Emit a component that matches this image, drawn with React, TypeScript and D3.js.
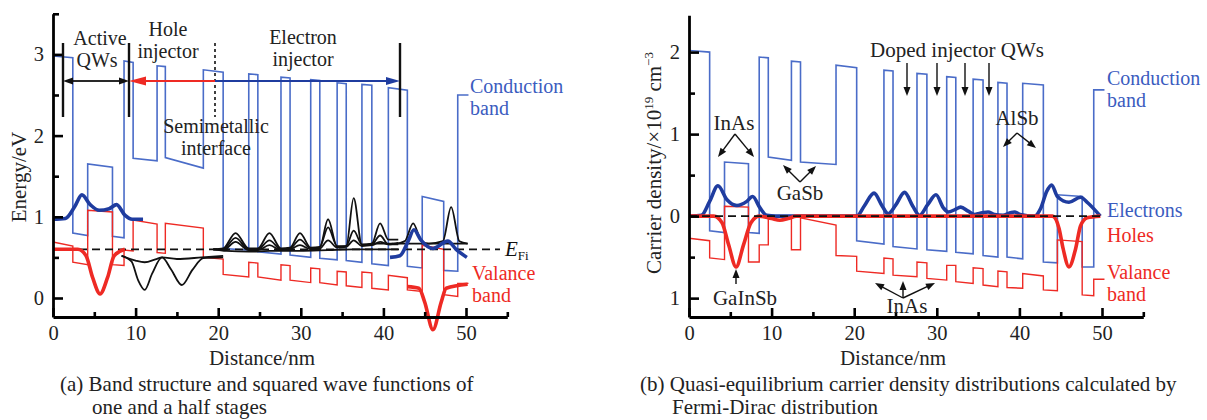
import React, { useEffect, useRef } from "react";
import * as d3 from "d3";

type Pt = [number, number];

// ---------- (a) band structure: energy (eV) vs distance (nm) ----------
const condBandA: Pt[] = [
  [0, 2.98], [2.4, 2.96], [2.4, 0.8], [4.2, 0.77], [4.2, 1.65], [7.2, 1.61], [7.2, 0.76], [8.6, 0.74],
  [8.6, 2.92], [9.7, 2.9], [9.7, 1.72], [12.6, 1.69], [12.6, 2.86], [13.6, 2.85], [13.6, 1.73], [18.2, 1.6],
  [18.2, 2.81], [20.6, 2.78], [20.6, 0.61], [23.7, 0.59], [23.7, 2.76], [24.8, 2.75], [24.8, 0.57], [27.6, 0.54],
  [27.6, 2.72], [28.7, 2.71], [28.7, 0.53], [31.2, 0.5], [31.2, 2.69], [32.3, 2.68], [32.3, 0.49], [34.4, 0.47],
  [34.4, 2.65], [35.5, 2.64], [35.5, 0.46], [37.4, 0.44], [37.4, 2.63], [38.6, 2.62], [38.6, 0.42], [40.6, 0.4],
  [40.6, 2.59], [42.9, 2.56], [42.9, 0.39], [44.7, 0.37], [44.7, 1.25], [47.3, 1.19], [47.3, 0.34], [49, 0.33],
  [49, 2.5], [50.3, 2.5],
];

const valBandA: Pt[] = [
  [0, 0.69], [2.4, 0.64], [2.4, 0.44], [4.2, 0.41], [4.2, 1.08], [7.2, 1.06], [7.2, 0.41], [8.6, 0.4],
  [8.6, 0.59], [9.7, 0.58], [9.7, 0.96], [12.6, 0.91], [12.6, 0.56], [13.6, 0.55], [13.6, 0.92], [18.2, 0.86],
  [18.2, 0.5], [20.6, 0.48], [20.6, 0.29], [23.7, 0.26], [23.7, 0.44], [24.8, 0.43], [24.8, 0.26], [27.6, 0.22],
  [27.6, 0.41], [28.7, 0.4], [28.7, 0.22], [31.2, 0.19], [31.2, 0.37], [32.3, 0.36], [32.3, 0.19], [34.4, 0.16],
  [34.4, 0.33], [35.5, 0.32], [35.5, 0.15], [37.4, 0.13], [37.4, 0.32], [38.6, 0.31], [38.6, 0.12], [40.6, 0.1],
  [40.6, 0.28], [42.9, 0.25], [42.9, 0.1], [44.7, 0.08], [44.7, 0.65], [47.3, 0.6], [47.3, 0.04], [49, 0.02],
  [49, 0.18], [50.3, 0.18],
];

// squared wave functions in the active QWs
const electronActive1: Pt[] = [
  [0, 0.97], [1.5, 0.98], [2.6, 1.12], [3.5, 1.27], [4.5, 1.15], [5.6, 1.08], [6.8, 1.1], [7.7, 1.15],
  [8.7, 1.02], [9.6, 0.97], [10.9, 0.97],
];
const electronActive2: Pt[] = [
  [40.8, 0.5], [42, 0.52], [43, 0.7], [43.7, 0.84], [44.5, 0.72], [46, 0.61], [47.8, 0.7], [48.8, 0.6], [50.1, 0.5],
];
const holeActive1: Pt[] = [
  [0, 0.6], [3, 0.6], [4, 0.52], [4.8, 0.25], [5.7, 0.05], [6.6, 0.25], [7.4, 0.52], [8.7, 0.6],
];
const holeActive2: Pt[] = [
  [42.9, 0.14], [44.3, 0.12], [45, -0.05], [46, -0.39], [47, -0.05], [47.6, 0.12], [50.2, 0.17],
];

// hole injector states
const holeInjector: Pt[][] = [
  [[8.3, 0.52], [9.5, 0.45], [10.3, 0.22], [11.1, 0.1], [12, 0.3], [13.2, 0.5], [14.3, 0.35], [15.6, 0.16],
    [16.9, 0.35], [18.2, 0.49], [20.6, 0.5]],
  [[8.3, 0.52], [10, 0.46], [11.1, 0.44], [12.5, 0.48], [13.2, 0.5], [15, 0.48], [18, 0.5], [20.6, 0.52]],
];

// electron injector states
const electronInjector: Pt[][] = [
  [[19.4, 0.6], [20.6, 0.61], [22.1, 0.8], [23.7, 0.61], [24.8, 0.61], [26.2, 0.8], [27.6, 0.61], [28.7, 0.62],
    [29.9, 0.8], [31.2, 0.62], [32.3, 0.63], [33.3, 0.87], [34.4, 0.64], [35.5, 0.64], [36.4, 1.23], [37.4, 0.65],
    [38.6, 0.66], [39.6, 0.77], [40.6, 0.66], [41.8, 0.66]],
  [[19.4, 0.6], [20.6, 0.6], [22.1, 0.74], [23.7, 0.6], [24.8, 0.6], [26.2, 0.71], [27.6, 0.6], [28.7, 0.61],
    [29.9, 0.72], [31.2, 0.61], [32.3, 0.62], [33.3, 0.97], [34.4, 0.63], [35.5, 0.64], [36.4, 0.83], [37.4, 0.66],
    [38.6, 0.67], [39.6, 0.92], [40.6, 0.72], [41.8, 0.72]],
  [[19.4, 0.6], [20.6, 0.59], [22.1, 0.69], [23.7, 0.59], [24.8, 0.59], [26.2, 0.65], [27.6, 0.59], [28.7, 0.6],
    [29.9, 0.65], [31.2, 0.6], [32.3, 0.61], [33.3, 0.71], [34.4, 0.62], [35.5, 0.63], [36.4, 0.71], [37.4, 0.64],
    [38.6, 0.65], [39.6, 0.69], [40.6, 0.66], [41.8, 0.68]],
  [[19.4, 0.6], [21, 0.58], [23.7, 0.57], [26.2, 0.58], [29.9, 0.58], [33.3, 0.59], [36.4, 0.6], [39.6, 0.6], [41.8, 0.6]],
  [[38.5, 0.67], [41.5, 0.67], [42.6, 0.7], [43.6, 0.92], [44.6, 0.7], [45.5, 0.67], [47.2, 0.7], [48.2, 1.12],
    [49.2, 0.7], [50.2, 0.67]],
  [[41, 0.67], [50.2, 0.67]],
];

const fermiLevel = 0.6;

// ---------- (b) carrier density (10^19 cm^-3) vs distance (nm) ----------
const condBandB: Pt[] = [
  [0, 2.02], [2.5, 2.0], [2.5, -0.18], [4.3, -0.2], [4.3, 0.66], [7.2, 0.64], [7.2, -0.2], [8.5, -0.21],
  [8.5, 1.94], [9.6, 1.93], [9.6, 0.72], [12.4, 0.68], [12.4, 1.89], [13.5, 1.88], [13.5, 0.66], [17.8, 0.63],
  [17.8, 1.84], [20.3, 1.81], [20.3, -0.3], [23.6, -0.34], [23.6, 1.78], [24.7, 1.77], [24.7, -0.37], [27.6, -0.4],
  [27.6, 1.74], [28.8, 1.73], [28.8, -0.41], [31.2, -0.43], [31.2, 1.7], [32.3, 1.69], [32.3, -0.44], [34.4, -0.46],
  [34.4, 1.67], [35.6, 1.66], [35.6, -0.48], [37.4, -0.5], [37.4, 1.63], [38.5, 1.62], [38.5, -0.5], [40.4, -0.52],
  [40.4, 1.62], [42.9, 1.6], [42.9, -0.56], [44.6, -0.57], [44.6, 0.26], [47.6, 0.24], [47.6, -0.62], [49, -0.62],
  [49, 1.54], [50.3, 1.54],
];

const valBandB: Pt[] = [
  [0, -0.27], [2.5, -0.3], [2.5, -0.51], [4.3, -0.53], [4.3, 0.12], [7.2, 0.11], [7.2, -0.56], [8.5, -0.56],
  [8.5, -0.35], [9.6, -0.35], [9.6, 0.0], [12.4, -0.02], [12.4, -0.41], [13.5, -0.41], [13.5, -0.02], [17.8, -0.11],
  [17.8, -0.48], [20.3, -0.49], [20.3, -0.67], [23.6, -0.7], [23.6, -0.51], [24.7, -0.52], [24.7, -0.72], [27.6, -0.74],
  [27.6, -0.56], [28.8, -0.57], [28.8, -0.76], [31.2, -0.78], [31.2, -0.6], [32.3, -0.6], [32.3, -0.8], [34.4, -0.82],
  [34.4, -0.63], [35.6, -0.64], [35.6, -0.84], [37.4, -0.86], [37.4, -0.67], [38.5, -0.68], [38.5, -0.87], [40.4, -0.88],
  [40.4, -0.7], [42.9, -0.73], [42.9, -0.9], [44.6, -0.91], [44.6, -0.29], [47.6, -0.31], [47.6, -0.96], [49, -0.97],
  [49, -0.77], [50.3, -0.77],
];

const electronDensity: Pt[] = [
  [0, 0], [1.5, 0.01], [2.5, 0.18], [3.5, 0.37], [4.6, 0.2], [5.8, 0.13], [7.0, 0.18], [7.7, 0.24], [8.6, 0.1],
  [9.4, 0.01], [10.5, 0], [20.3, 0], [21.2, 0.12], [22.4, 0.28], [23.4, 0.12], [24.1, 0.03], [25, 0.13],
  [26.1, 0.29], [27.1, 0.12], [27.9, 0.01], [28.9, 0.14], [29.9, 0.26], [30.8, 0.1], [31.4, 0.05], [32.2, 0.08],
  [32.9, 0.11], [33.8, 0.06], [34.6, 0.02], [35.5, 0.04], [36.2, 0.05], [37, 0.02], [38, 0.01], [38.9, 0.04],
  [39.4, 0.05], [40.1, 0.02], [41.8, 0], [42.6, 0.1], [43.3, 0.3], [43.9, 0.38], [44.6, 0.24], [46, 0.17],
  [47.4, 0.23], [48.3, 0.16], [49.8, 0],
];

// holes are drawn downward (negative)
const holeDensity: Pt[] = [
  [0, 0], [3, 0], [4, -0.08], [4.8, -0.35], [5.7, -0.62], [6.6, -0.35], [7.5, -0.08], [8.5, 0], [10, -0.03],
  [11, -0.05], [12, -0.03], [13, 0], [44, 0], [44.8, -0.15], [45.3, -0.4], [46, -0.62], [46.8, -0.4],
  [47.4, -0.12], [48.2, -0.02], [49.8, 0],
];

const xMajor = [0, 10, 20, 30, 40, 50];
const xMinor = [5, 15, 25, 35, 45, 55];
const yMajorA = [0, 1, 2, 3];
const yMinorA = [0.5, 1.5, 2.5, 3.5];
const yMajorB = [-1, 0, 1, 2];
const yMinorB = [-0.5, 0.5, 1.5];

const FONT = "'Liberation Serif', 'Times New Roman', serif";
const BLUE_THIN = "#4a6cc8";
const BLUE_THICK = "#1f3c9f";
const RED = "#ee2a24";
const BLUE_TEXT = "#3b5cbf";

type Sel = d3.Selection<SVGGElement, unknown, null, undefined>;
type Lin = d3.ScaleLinear<number, number>;

function drawAxes(g: Sel, x: Lin, y: Lin, yMajor: number[], yMinor: number[], fmt: (d: number) => string) {
  const yb = y(y.domain()[0]);
  const xl = x(0);
  const gx = g.append("g").attr("transform", `translate(0,${yb})`);
  gx.call(d3.axisBottom(x).tickValues(xMajor).tickSize(-9).tickSizeOuter(0).tickPadding(8).tickFormat(d3.format("d")));
  gx.append("g").call(d3.axisBottom(x).tickValues(xMinor).tickSize(-5).tickSizeOuter(0).tickFormat(() => ""))
    .select(".domain").remove();
  const gy = g.append("g").attr("transform", `translate(${xl},0)`);
  gy.call(d3.axisLeft(y).tickValues(yMajor).tickSize(-10).tickSizeOuter(0).tickPadding(9).tickFormat((d) => fmt(+d)));
  gy.append("g").call(d3.axisLeft(y).tickValues(yMinor).tickSize(-6).tickSizeOuter(0).tickFormat(() => ""))
    .select(".domain").remove();
  g.selectAll(".domain").attr("stroke", "#000").attr("stroke-width", 2.8);
  g.selectAll(".tick line").attr("stroke", "#000").attr("stroke-width", 2.6);
  g.selectAll(".tick text").attr("font-family", FONT).attr("font-size", 20.5).attr("fill", "#222");
}

function arrow(g: Sel, x1: number, y1: number, x2: number, y2: number, color: string, len = 9, half = 3.5, w = 1.4) {
  const dx = x2 - x1, dy = y2 - y1;
  const L = Math.hypot(dx, dy);
  const ux = dx / L, uy = dy / L;
  const bx = x2 - ux * len, by = y2 - uy * len;
  g.append("line").attr("x1", x1).attr("y1", y1).attr("x2", bx + ux * 2).attr("y2", by + uy * 2)
    .attr("stroke", color).attr("stroke-width", w);
  g.append("polygon")
    .attr("points", `${x2},${y2} ${bx - uy * half},${by + ux * half} ${bx + uy * half},${by - ux * half}`)
    .attr("fill", color);
}

function label(g: Sel, x: number, y: number, s: string, color = "#222", size = 21, anchor = "start") {
  return g.append("text").attr("x", x).attr("y", y).attr("fill", color).attr("font-size", size)
    .attr("font-family", FONT).attr("text-anchor", anchor).text(s);
}

const App: React.FC = () => {
  const svgRef = useRef<SVGSVGElement | null>(null);

  useEffect(() => {
    const svg = d3.select(svgRef.current);
    svg.selectAll("*").remove();
    const root = svg.append("g") as Sel;

    // ===== panel (a) =====
    const xA = d3.scaleLinear().domain([0, 55]).range([53, 507.3]);
    const yA = d3.scaleLinear().domain([-0.234, 3.5]).range([317, 13.8]);
    const lineA = (c: d3.CurveFactory) => d3.line<Pt>().x((d) => xA(d[0])).y((d) => yA(d[1])).curve(c);
    const gA = root.append("g") as Sel;

    gA.append("path").attr("d", lineA(d3.curveLinear)(condBandA)!).attr("fill", "none")
      .attr("stroke", BLUE_THIN).attr("stroke-width", 1.6);
    gA.append("path").attr("d", lineA(d3.curveLinear)(valBandA)!).attr("fill", "none")
      .attr("stroke", RED).attr("stroke-width", 1.4);

    [...holeInjector, ...electronInjector].forEach((s) => {
      gA.append("path").attr("d", lineA(d3.curveMonotoneX)(s)!).attr("fill", "none")
        .attr("stroke", "#111").attr("stroke-width", 1.8);
    });

    gA.append("line").attr("x1", xA(0)).attr("x2", 500).attr("y1", yA(fermiLevel)).attr("y2", yA(fermiLevel))
      .attr("stroke", "#111").attr("stroke-width", 1.8).attr("stroke-dasharray", "8,5");

    [holeActive1, holeActive2].forEach((s) => {
      gA.append("path").attr("d", lineA(d3.curveMonotoneX)(s)!).attr("fill", "none")
        .attr("stroke", RED).attr("stroke-width", 3.6);
    });
    [electronActive1, electronActive2].forEach((s) => {
      gA.append("path").attr("d", lineA(d3.curveMonotoneX)(s)!).attr("fill", "none")
        .attr("stroke", BLUE_THICK).attr("stroke-width", 3.6);
    });

    drawAxes(gA, xA, yA, yMajorA, yMinorA, (d) => String(d));

    // region markers
    [63, 129, 400].forEach((px) => {
      gA.append("line").attr("x1", px).attr("x2", px).attr("y1", 43).attr("y2", 117)
        .attr("stroke", "#111").attr("stroke-width", 2.4);
    });
    gA.append("line").attr("x1", 215).attr("x2", 215).attr("y1", 43).attr("y2", 117)
      .attr("stroke", "#111").attr("stroke-width", 1.6).attr("stroke-dasharray", "3,3");
    arrow(gA, 96, 81, 63, 81, "#111", 10, 3.5, 1.8);
    arrow(gA, 96, 81, 129, 81, "#111", 10, 3.5, 1.8);
    arrow(gA, 215, 81, 129, 81, RED, 17, 4.5, 2);
    arrow(gA, 215, 81, 400, 81, BLUE_THICK, 14, 4, 2);

    // two-line annotations
    label(gA, 100, 45, "Active", "#222", 20, "middle");
    label(gA, 97, 67, "QWs", "#222", 20, "middle");
    label(gA, 168, 36, "Hole", "#222", 20, "middle");
    label(gA, 168, 58, "injector", "#222", 20, "middle");
    label(gA, 303, 44, "Electron", "#222", 20, "middle");
    label(gA, 303, 66, "injector", "#222", 20, "middle");
    label(gA, 216, 133, "Semimetallic", "#222", 20, "middle");
    label(gA, 216, 155, "interface", "#222", 20, "middle");
    label(gA, 470, 93, "Conduction", BLUE_TEXT, 20);
    label(gA, 470, 115, "band", BLUE_TEXT, 20);
    label(gA, 472, 280, "Valance", RED, 20);
    label(gA, 472, 302, "band", RED, 20);
    const ef = label(gA, 505, 256, "", "#111", 21);
    ef.append("tspan").attr("font-style", "italic").text("E");
    ef.append("tspan").attr("font-size", 13).attr("dy", 4).text("Fi");

    label(gA, 262, 365, "Distance/nm", "#222", 21, "middle");
    label(gA, 0, 0, "Energy/eV", "#222", 21, "middle").attr("transform", "translate(26,177) rotate(-90)");
    label(gA, 60, 391, "(a) Band structure and squared wave functions of", "#222", 21);
    label(gA, 92, 414, "one and a half stages", "#222", 21);

    // ===== panel (b) =====
    const xB = d3.scaleLinear().domain([0, 55]).range([689, 1143.3]);
    const yB = d3.scaleLinear().domain([-1.23, 2.45]).range([317, 15.2]);
    const lineB = (c: d3.CurveFactory) => d3.line<Pt>().x((d) => xB(d[0])).y((d) => yB(d[1])).curve(c);
    const gB = root.append("g") as Sel;

    gB.append("path").attr("d", lineB(d3.curveLinear)(condBandB)!).attr("fill", "none")
      .attr("stroke", BLUE_THIN).attr("stroke-width", 1.6);
    gB.append("path").attr("d", lineB(d3.curveLinear)(valBandB)!).attr("fill", "none")
      .attr("stroke", RED).attr("stroke-width", 1.4);
    gB.append("path").attr("d", lineB(d3.curveMonotoneX)(electronDensity)!).attr("fill", "none")
      .attr("stroke", BLUE_THICK).attr("stroke-width", 3.6);
    gB.append("path").attr("d", lineB(d3.curveMonotoneX)(holeDensity)!).attr("fill", "none")
      .attr("stroke", RED).attr("stroke-width", 3.6);
    gB.append("line").attr("x1", xB(0)).attr("x2", xB(50)).attr("y1", yB(0)).attr("y2", yB(0))
      .attr("stroke", "#111").attr("stroke-width", 1.8).attr("stroke-dasharray", "8,5");

    drawAxes(gB, xB, yB, yMajorB, yMinorB, (d) => String(Math.abs(d)));

    // annotations
    label(gB, 734, 130, "InAs", "#222", 21, "middle");
    arrow(gB, 735, 134, 718, 157, "#111");
    arrow(gB, 735, 134, 754, 157, "#111");
    label(gB, 800, 200, "GaSb", "#222", 21, "middle");
    arrow(gB, 800, 182, 783, 165, "#111");
    arrow(gB, 800, 182, 816, 166, "#111");
    label(gB, 745, 305, "GaInSb", "#222", 21, "middle");
    arrow(gB, 736, 284, 736, 269, "#111");
    label(gB, 907, 313, "InAs", "#222", 21, "middle");
    arrow(gB, 903, 298, 875, 283, "#111");
    arrow(gB, 903, 298, 903, 281, "#111");
    arrow(gB, 903, 298, 935, 283, "#111");
    label(gB, 957, 57, "Doped injector QWs", "#222", 21, "middle");
    [907, 937, 965, 989].forEach((px) => arrow(gB, px, 63, px, 96, "#111"));
    label(gB, 1017, 125, "AlSb", "#222", 21, "middle");
    arrow(gB, 1017, 133, 1003, 147, "#111");
    arrow(gB, 1017, 133, 1036, 148, "#111");

    label(gB, 1107, 85, "Conduction", BLUE_TEXT, 20);
    label(gB, 1107, 107, "band", BLUE_TEXT, 20);
    label(gB, 1107, 217, "Electrons", BLUE_TEXT, 20);
    label(gB, 1107, 242, "Holes", RED, 20);
    label(gB, 1107, 279, "Valance", RED, 20);
    label(gB, 1107, 301, "band", RED, 20);

    label(gB, 893, 365, "Distance/nm", "#222", 21, "middle");
    const yl = label(gB, 0, 0, "Carrier density/×10", "#222", 21, "middle")
      .attr("transform", "translate(661,163) rotate(-90)");
    yl.append("tspan").attr("font-size", 13).attr("dy", -8).text("19");
    yl.append("tspan").attr("dy", 8).text(" cm");
    yl.append("tspan").attr("font-size", 13).attr("dy", -8).text("−3");

    label(gB, 640, 391, "(b) Quasi-equilibrium carrier density distributions calculated by", "#222", 21);
    label(gB, 672, 414, "Fermi-Dirac distribution", "#222", 21);
  }, []);

  return (
    <svg
      ref={svgRef}
      width={1207}
      height={420}
      style={{ position: "absolute", left: 0, top: 0, background: "#fff" }}
    ></svg>
  );
};

export default App;
